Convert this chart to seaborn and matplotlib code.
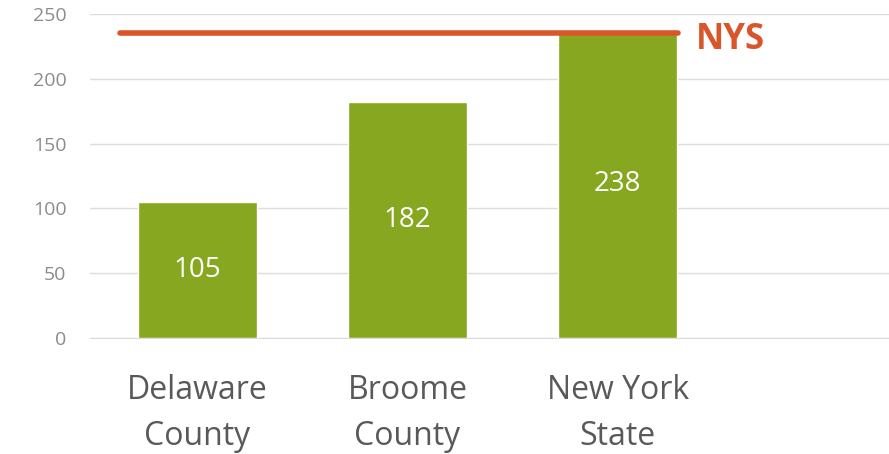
import pandas as pd
import numpy as np
import matplotlib.pyplot as plt
import seaborn as sns

# data
regions = ["Delaware\nCounty", "Broome\nCounty", "New York\nState"]
rates = [105, 182, 238]
nys_rate = 235
y_ticks = [0, 50, 100, 150, 200, 250]

bar_color = "#86a71f"
line_color = "#d9562b"

sns.set_style("white")
plt.rcParams["font.family"] = ["Open Sans", "DejaVu Sans"]

df = pd.DataFrame({"region": regions, "rate": rates})

fig = plt.figure(figsize=(8.89, 4.54), dpi=100)
ax = fig.add_axes([90 / 889, 116 / 454, 799 / 889, 324 / 454])

sns.barplot(data=df, x="region", y="rate", color=bar_color, width=0.565,
            saturation=1, ax=ax, zorder=2)

ax.bar_label(ax.containers[0], label_type="center", color="white", fontsize=20)

# state average line
ax.axhline(nys_rate, xmin=0.0375, xmax=0.736, color=line_color, lw=4, zorder=3)
ax.text(2.37, nys_rate - 5, "NYS", color=line_color, fontsize=25,
        fontweight="bold", va="center", ha="left")

ax.set_xlim(-0.51, 3.29)
ax.set_ylim(0, 250)
ax.set_yticks(y_ticks)
ax.yaxis.grid(True, color="#dcdcdc", lw=1, zorder=0)
ax.set_axisbelow(True)
sns.despine(ax=ax, left=True, right=True, top=True)
ax.spines["bottom"].set_color("#dcdcdc")
ax.tick_params(axis="y", length=0, pad=17, labelsize=14, labelcolor="#8c8c8c")
ax.tick_params(axis="x", length=0, pad=26, labelsize=23, labelcolor="#595959")
for lbl in ax.get_xticklabels():
    lbl.set_linespacing(1.5)
ax.set_xlabel("")
ax.set_ylabel("")

fig.savefig("out.png", dpi=100)
